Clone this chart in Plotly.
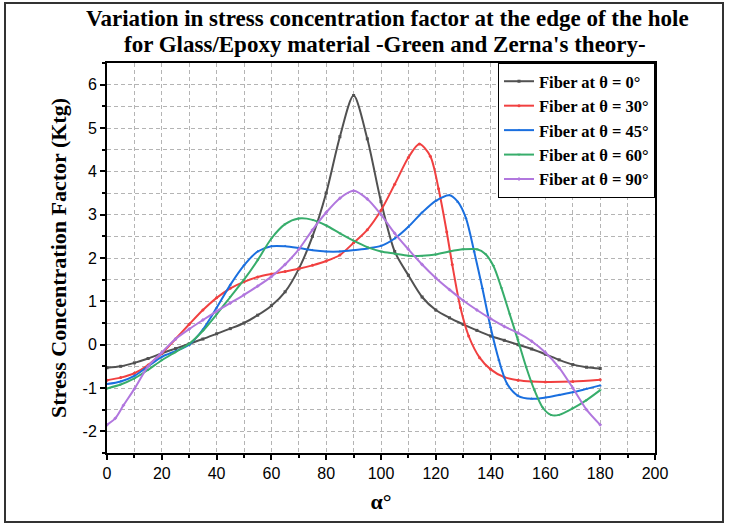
import plotly.graph_objects as go

# ---- data ----
x_t0 = [0, 5, 10, 15, 20, 25, 30, 35, 40, 45, 50, 55, 60, 65, 70, 75, 80, 85, 90,
        95, 100, 105, 110, 115, 120, 125, 130, 135, 140, 145, 150, 155, 160, 165, 170, 175, 180]
y_t0 = [-0.53, -0.5, -0.42, -0.32, -0.2, -0.09, 0.02, 0.13, 0.25, 0.37, 0.5, 0.68, 0.9, 1.22, 1.75, 2.5, 3.5, 4.8, 5.75,
        4.75, 3.3, 2.15, 1.6, 1.1, 0.8, 0.62, 0.47, 0.33, 0.2, 0.1, 0.0, -0.1, -0.22, -0.35, -0.46, -0.52, -0.55]

x_t30 = [0, 5, 10, 15, 20, 25, 30, 35, 40, 45, 50, 55, 60, 65, 70, 75, 80, 85, 90, 95, 100, 105, 110,
         114, 118, 121, 124, 126, 129, 132, 136, 140, 145, 150, 155, 160, 170, 180]
y_t30 = [-0.82, -0.76, -0.66, -0.47, -0.2, 0.13, 0.47, 0.8, 1.08, 1.3, 1.45, 1.56, 1.63, 1.69, 1.75, 1.83, 1.93, 2.07, 2.35, 2.65, 3.1, 3.7, 4.32,
         4.63, 4.35, 3.6, 2.6, 1.85, 0.85, 0.2, -0.3, -0.57, -0.75, -0.82, -0.85, -0.86, -0.85, -0.81]

x_t45 = [0, 5, 10, 15, 20, 25, 30, 35, 40, 45, 50, 55, 60, 65, 70, 75, 80, 85, 90, 95, 100, 105, 110, 115, 120,
         125, 128, 131, 134, 137, 140, 143, 146, 150, 155, 160, 165, 170, 175, 180]
y_t45 = [-0.91, -0.85, -0.72, -0.5, -0.28, -0.15, 0.0, 0.35, 0.85, 1.38, 1.83, 2.15, 2.27, 2.27, 2.23, 2.18, 2.15, 2.15, 2.18, 2.22, 2.28, 2.45, 2.72, 3.05, 3.32,
         3.45, 3.3, 2.92, 2.15, 1.3, 0.4, -0.35, -0.9, -1.18, -1.25, -1.22, -1.16, -1.1, -1.02, -0.94]

x_t60 = [0, 5, 10, 15, 20, 25, 30, 35, 40, 45, 50, 55, 60, 65, 70, 75, 80, 85, 90, 95, 100, 105, 110, 115, 120,
         125, 130, 135, 138, 141, 144, 147, 150, 153, 156, 159, 162, 165, 170, 175, 180]
y_t60 = [-1.01, -0.92, -0.78, -0.58, -0.36, -0.17, 0.02, 0.32, 0.7, 1.1, 1.5, 1.95, 2.45, 2.78, 2.91, 2.88, 2.75, 2.57, 2.4, 2.25, 2.15, 2.1, 2.05, 2.05, 2.08,
         2.15, 2.2, 2.2, 2.1, 1.82, 1.3, 0.7, 0.1, -0.52, -1.05, -1.45, -1.62, -1.62, -1.47, -1.28, -1.05]

x_t90 = [0, 3, 6, 10, 15, 20, 25, 30, 35, 40, 45, 50, 55, 60, 65, 70, 75, 80, 85, 90,
         95, 100, 105, 110, 115, 120, 125, 130, 135, 140, 145, 150, 155, 160, 165, 170, 175, 180]
y_t90 = [-1.85, -1.7, -1.4, -1.02, -0.5, -0.18, 0.13, 0.36, 0.57, 0.77, 0.96, 1.15, 1.35, 1.57, 1.85, 2.2, 2.65, 3.05, 3.38, 3.55,
         3.36, 3.0, 2.57, 2.2, 1.85, 1.54, 1.27, 1.02, 0.8, 0.6, 0.42, 0.27, 0.08, -0.18, -0.53, -1.0, -1.5, -1.85]

series_names = ["Fiber at θ = 0°", "Fiber at θ = 30°", "Fiber at θ = 45°",
                "Fiber at θ = 60°", "Fiber at θ = 90°"]
series_x = [x_t0, x_t30, x_t45, x_t60, x_t90]
series_y = [y_t0, y_t30, y_t45, y_t60, y_t90]
colors = ["#515151", "#F14040", "#1A6FDF", "#37AD6B", "#B177DE"]
symbols = ["square", "circle", "triangle-up", "triangle-down", "diamond"]

x_ticks = [0, 20, 40, 60, 80, 100, 120, 140, 160, 180, 200]
y_ticks = [-2, -1, 0, 1, 2, 3, 4, 5, 6]

title_lines = ["Variation in stress concentration factor at the edge of the hole",
               "for Glass/Epoxy material -Green and Zerna's theory-"]

SERIF = "Liberation Serif, Times New Roman, serif"
SANS = "Liberation Sans, Arial, sans-serif"

# plot area in pixels: left 107, right 655, top 63, bottom 453
PL, PR, PT, PB = 107, 655, 63, 453
PW, PH = PR - PL, PB - PT


def px_x(p):
    return (p - PL) / PW


def px_y(p):
    return (PB - p) / PH


fig = go.Figure()
for xs, ys, name, c, s in zip(series_x, series_y, series_names, colors, symbols):
    fig.add_trace(go.Scatter(
        x=xs, y=ys, name="<b>" + name + "</b>", mode="lines+markers",
        line=dict(color=c, width=2, shape="spline", smoothing=0.8),
        marker=dict(symbol=s, size=3, color=c),
    ))

grid_color = "#b4b4b4"
annotations = [
    dict(text="<b>" + title_lines[0] + "</b>", xref="paper", yref="paper",
         x=px_x(387), y=px_y(19), xanchor="center", yanchor="middle", showarrow=False,
         font=dict(family=SERIF, size=23, color="black")),
    dict(text="<b>" + title_lines[1] + "</b>", xref="paper", yref="paper",
         x=px_x(385), y=px_y(45), xanchor="center", yanchor="middle", showarrow=False,
         font=dict(family=SERIF, size=23, color="black")),
]

fig.update_layout(
    width=729, height=526,
    margin=dict(l=PL, r=729 - PR, t=PT, b=526 - PB),
    paper_bgcolor="white", plot_bgcolor="white",
    annotations=annotations,
    showlegend=True,
    legend=dict(
        x=1, y=1, xanchor="right", yanchor="top",
        bgcolor="white", bordercolor="black", borderwidth=1,
        font=dict(family=SERIF, size=16.5, color="black"),
        tracegroupgap=0, itemwidth=30,
    ),
    xaxis=dict(
        range=[0, 200], tickvals=x_ticks, ticktext=[str(v) for v in x_ticks],
        showline=True, linecolor="black", linewidth=2, mirror=True,
        ticks="outside", ticklen=5, tickwidth=1.5, tickcolor="black",
        tickfont=dict(family=SANS, size=16, color="black"),
        showgrid=True, gridcolor=grid_color, griddash="4px,3px", gridwidth=1,
        minor=dict(dtick=10, ticks="outside", ticklen=3, tickcolor="black",
                   showgrid=True, gridcolor=grid_color, griddash="4px,3px", gridwidth=1),
        zeroline=False,
        title=dict(text="<b>α°</b>", font=dict(family=SERIF, size=22, color="black"), standoff=12),
    ),
    yaxis=dict(
        range=[-2.5, 6.5], tickvals=y_ticks, ticktext=[str(v) for v in y_ticks],
        showline=True, linecolor="black", linewidth=2, mirror=True,
        ticks="outside", ticklen=5, tickwidth=1.5, tickcolor="black",
        tickfont=dict(family=SANS, size=16, color="black"),
        showgrid=True, gridcolor=grid_color, griddash="4px,3px", gridwidth=1,
        minor=dict(dtick=0.5, ticks="outside", ticklen=3, tickcolor="black",
                   showgrid=True, gridcolor=grid_color, griddash="4px,3px", gridwidth=1),
        zeroline=False,
        title=dict(text="<b>Stress Concentration Factor (Ktg)</b>",
                   font=dict(family=SERIF, size=22, color="black"), standoff=10),
    ),
    shapes=[dict(type="rect", xref="paper", yref="paper",
                 x0=px_x(5), x1=px_x(723), y0=px_y(522), y1=px_y(3),
                 line=dict(color="#333333", width=2), layer="below")],
)

fig.write_html("out.html")
